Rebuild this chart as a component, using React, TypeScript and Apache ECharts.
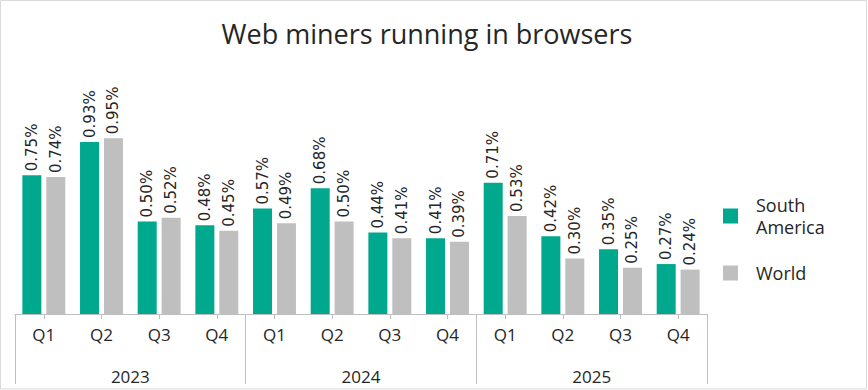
import React, { useEffect, useRef } from "react";
import * as echarts from "echarts";

const quarters = ["Q1", "Q2", "Q3", "Q4", "Q1", "Q2", "Q3", "Q4", "Q1", "Q2", "Q3", "Q4"];
const years = ["2023", "2024", "2025"];
const southAmerica = [0.75, 0.93, 0.5, 0.48, 0.57, 0.68, 0.44, 0.41, 0.71, 0.42, 0.35, 0.27];
const world = [0.74, 0.95, 0.52, 0.45, 0.49, 0.5, 0.41, 0.39, 0.53, 0.3, 0.25, 0.24];
const seriesNames = ["South America", "World"];

const FONT = "'Open Sans', sans-serif";
const LABEL_FONT = "'DejaVu Sans', sans-serif";
const TEXT = "#262626";
const AXIS = "#bfbfbf";

export default function App() {
  const ref = useRef<HTMLDivElement>(null);
  useEffect(() => {
    if (!ref.current) return;
    const chart = echarts.init(ref.current, undefined, { renderer: "svg" });
    const label = {
      show: true,
      position: "top",
      rotate: 90,
      align: "left",
      verticalAlign: "middle",
      distance: 4,
      fontSize: 15,
      fontFamily: LABEL_FONT,
      color: TEXT,
      formatter: (p: any) => p.value.toFixed(2) + "%",
    };
    const legendText = {
      fontSize: 18,
      color: TEXT,
      lineHeight: 22,
      fontFamily: FONT,
      padding: [0, 0, 0, 13],
    };
    chart.setOption({
      animation: false,
      backgroundColor: "#ffffff",
      textStyle: { fontFamily: FONT },
      title: {
        text: "Web miners running in browsers",
        left: 422,
        textAlign: "center",
        top: 15,
        textStyle: { fontSize: 27, fontWeight: "normal", color: TEXT, fontFamily: FONT },
      },
      legend: [
        {
          data: [seriesNames[0]],
          orient: "vertical",
          left: 718,
          top: 189,
          icon: "rect",
          itemWidth: 15,
          itemHeight: 15,
          itemGap: 0,
          formatter: () => "South\nAmerica",
          textStyle: legendText,
        },
        {
          data: [seriesNames[1]],
          orient: "vertical",
          left: 718,
          top: 257,
          icon: "rect",
          itemWidth: 15,
          itemHeight: 15,
          itemGap: 0,
          textStyle: legendText,
        },
      ],
      grid: { left: 15, right: 161, top: 129, bottom: 76 },
      xAxis: [
        {
          type: "category",
          data: quarters,
          position: "bottom",
          axisLine: { show: true, lineStyle: { color: AXIS, width: 1 } },
          axisTick: { show: true, alignWithLabel: true, interval: 0, length: 5, lineStyle: { color: AXIS } },
          axisLabel: { interval: 0, margin: 12, fontSize: 17, color: TEXT, fontFamily: FONT },
        },
        {
          type: "category",
          data: years,
          position: "bottom",
          offset: 0,
          axisLine: { show: false },
          axisTick: { show: true, interval: 0, length: 70, lineStyle: { color: AXIS } },
          axisLabel: { interval: 0, margin: 54, fontSize: 17, color: TEXT, fontFamily: FONT },
        },
      ],
      yAxis: {
        type: "value",
        min: 0,
        max: 1,
        show: false,
        splitLine: { show: false },
      },
      series: [
        {
          name: seriesNames[0],
          type: "bar",
          xAxisIndex: 0,
          data: southAmerica,
          barWidth: 19,
          barGap: "26%",
          itemStyle: { color: "#00a88e" },
          label,
        },
        {
          name: seriesNames[1],
          type: "bar",
          xAxisIndex: 0,
          data: world,
          barWidth: 19,
          barGap: "26%",
          itemStyle: { color: "#bfbfbf" },
          label,
        },
      ],
      graphic: [
        {
          type: "rect",
          shape: { x: 0.5, y: 0.5, width: 866, height: 388.5 },
          style: { fill: "none", stroke: "#d9d9d9", lineWidth: 1 },
          silent: true,
        },
      ],
    });
    return () => chart.dispose();
  }, []);
  return (
    <div
      ref={ref}
      style={{ position: "absolute", left: 0, top: 0, width: 868, height: 390 }}
    />
  );
}
